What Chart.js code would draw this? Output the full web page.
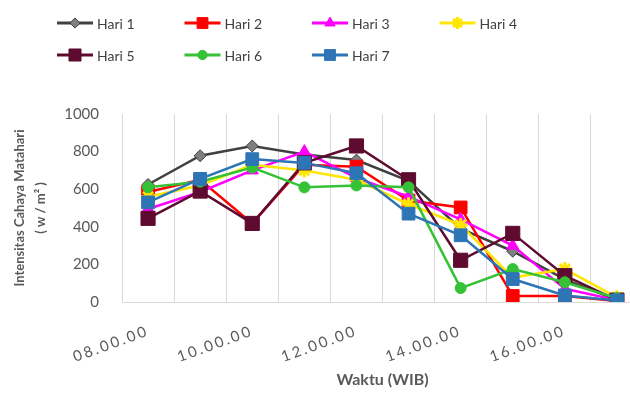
<!DOCTYPE html>
<html>
<head>
<meta charset="utf-8">
<script src="https://cdn.jsdelivr.net/npm/chart.js@4"></script>
<style>
  html, body { margin: 0; padding: 0; background: #fff; overflow: hidden; }
  #lineChart { display: block; }
</style>
</head>
<body>
<canvas id="lineChart" width="643" height="396"></canvas>
<script>
// kategori waktu (sumbu X)
const labels = ['08.00.00', '09.00.00', '10.00.00', '11.00.00', '12.00.00',
                '13.00.00', '14.00.00', '15.00.00', '16.00.00', '17.00.00'];
// label yang ditampilkan di sumbu X (tiap 2 jam)
const tickLabels = ['08.00.00', '10.00.00', '12.00.00', '14.00.00', '16.00.00'];
const yTicks = [0, 200, 400, 600, 800, 1000];

const seriesNames = ['Hari 1', 'Hari 2', 'Hari 3', 'Hari 4', 'Hari 5', 'Hari 6', 'Hari 7'];
// intensitas cahaya matahari (w/m2)
const hari1 = [625, 778, 830, 785, 755, 645, 390, 270, 120, 10];
const hari2 = [585, 650, 418, 730, 720, 540, 503, 32, 32, 5];
const hari3 = [495, 585, 700, 800, 660, 560, 440, 300, 70, 10];
const hari4 = [560, 620, 730, 700, 650, 520, 410, 130, 175, 25];
const hari5 = [445, 590, 418, 740, 830, 650, 222, 365, 140, 10];
const hari6 = [610, 640, 715, 610, 620, 610, 74, 175, 105, 20];
const hari7 = [530, 655, 760, 740, 685, 470, 355, 122, 35, 8];

const lineColors  = ['#404040', '#ff0000', '#ff00ff', '#ffe600', '#5e0b2f', '#36c236', '#2e75b6'];
const pointFills  = ['#7f7f7f', '#ff0000', '#ff00ff', '#ffe600', '#5e0b2f', '#36c236', '#2e75b6'];
const pointStyles = ['rectRot', 'rect', 'triangle', 'star', 'rect', 'circle', 'rect'];
const pointSizes  = [6, 9, 7, 7, 10, 5.5, 9];

const allData = [hari1, hari2, hari3, hari4, hari5, hari6, hari7];

const datasets = allData.map((d, i) => ({
    label: seriesNames[i],
    data: d,
    borderColor: lineColors[i],
    borderWidth: 2.5,
    backgroundColor: pointFills[i],
    pointBackgroundColor: pointFills[i],
    pointBorderColor: i === 0 ? '#404040' : lineColors[i],
    pointBorderWidth: i === 3 ? 3 : 1,
    pointStyle: pointStyles[i],
    pointRadius: pointSizes[i],
    tension: 0,
    order: 7 - i   // seri terakhir di atas
}));

// legenda manual (2 baris, rata kiri seperti di Excel)
const legendPlugin = {
    id: 'excelLegend',
    afterLayout(chart) {
        // label sumbu X sedikit lebih renggang
        const sx = chart.scales.x;
        if (sx && !sx._spaced) {
            const orig = sx.drawLabels;
            sx.drawLabels = function (area) {
                const c = this.ctx;
                c.save();
                c.letterSpacing = '2.5px';
                orig.call(this, area);
                c.restore();
            };
            sx._spaced = true;
        }
    },
    afterDraw(chart) {
        const ctx = chart.ctx;
        ctx.save();
        datasets.forEach((ds, i) => {
            const col = i % 4;
            const row = Math.floor(i / 4);
            const x0 = 57 + col * 127.5;
            const y = row === 0 ? 23 : 55;
            ctx.strokeStyle = ds.borderColor;
            ctx.lineWidth = 3;
            ctx.beginPath();
            ctx.moveTo(x0, y);
            ctx.lineTo(x0 + 36, y);
            ctx.stroke();
            ctx.fillStyle = ds.pointBackgroundColor;
            ctx.strokeStyle = ds.pointBorderColor;
            ctx.lineWidth = ds.pointBorderWidth;
            Chart.helpers.drawPoint(ctx, {
                pointStyle: ds.pointStyle,
                radius: ds.pointRadius * 0.85,
                rotation: 0,
                borderWidth: ds.pointBorderWidth
            }, x0 + 18, y);
            ctx.fillStyle = '#404040';
            ctx.font = '14px Lato';
            ctx.textBaseline = 'middle';
            ctx.textAlign = 'left';
            ctx.fillText(ds.label, x0 + 40, y + 1);
        });
        ctx.restore();
    }
};

const ctx = document.getElementById('lineChart').getContext('2d');
const chart = new Chart(ctx, {
    type: 'line',
    data: { labels: labels, datasets: datasets },
    plugins: [legendPlugin],
    options: {
        responsive: false,
        animation: false,
        layout: { autoPadding: false, padding: { top: 114, right: 0, left: 0, bottom: 0 } },
        plugins: {
            legend: { display: false },
            tooltip: { enabled: false }
        },
        scales: {
            x: {
                offset: true,
                grid: { display: true, offset: true, color: '#d9d9d9', drawTicks: false },
                border: { display: true, color: '#d9d9d9' },
                ticks: {
                    autoSkip: false,
                    minRotation: 20,
                    maxRotation: 20,
                    padding: 20,
                    color: '#595959',
                    font: { family: 'Lato', size: 15 },
                    callback: function (val, i) {
                        const l = labels[i];
                        return tickLabels.includes(l) ? l : '';
                    }
                },
                title: {
                    display: true,
                    text: 'Waktu (WIB)',
                    color: '#595959',
                    font: { family: 'Lato', size: 16, weight: 'bold' },
                    padding: { top: 4, bottom: 7 }
                },
                afterFit: function (scale) {
                    scale.height = 94;
                    scale.paddingLeft = 0;
                    scale.paddingRight = 0;
                }
            },
            y: {
                min: 0,
                max: 1000,
                afterBuildTicks: function (scale) {
                    scale.ticks = yTicks.map(v => ({ value: v }));
                },
                grid: { display: false },
                border: { display: false },
                ticks: {
                    padding: 15,
                    color: '#595959',
                    font: { family: 'Lato', size: 15 },
                    callback: v => String(v)
                },
                title: {
                    display: true,
                    text: ['Intensitas Cahaya Matahari', '( w / m\u00B2 )'],
                    color: '#595959',
                    font: { family: 'Lato', size: 13, weight: 'bold', lineHeight: 1.65 },
                    padding: { top: 9, bottom: 4 }
                },
                afterFit: function (scale) { scale.width = 122; }
            }
        }
    }
});
</script>
</body>
</html>
